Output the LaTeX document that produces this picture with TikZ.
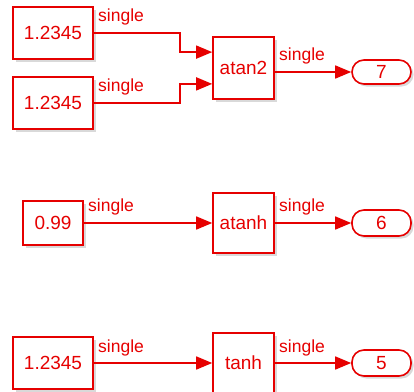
\documentclass[tikz,border=0pt]{standalone}
\usepackage{fontspec}
\setmainfont{Liberation Sans}
\usetikzlibrary{calc,arrows.meta,shadows}
\definecolor{sred}{RGB}{230,0,0}
\tikzset{
  blk/.style={draw=sred, line width=1.6pt, fill=white, text=sred, inner sep=0pt,
    font=\fontsize{19}{22}\selectfont,
    drop shadow={shadow xshift=2.5pt, shadow yshift=-2.5pt, opacity=0.3, fill=gray}},
  outp/.style={blk, rounded corners=12pt, minimum width=59pt},
  sig/.style={draw=sred, line width=1.6pt, -{Triangle[length=16pt,width=13pt]}},
  lbl/.style={text=sred, anchor=base west, inner sep=0pt, font=\fontsize{17.5}{20}\selectfont}
}
\begin{document}
\begin{tikzpicture}[x=1pt,y=-1pt]
\useasboundingbox (0,0) rectangle (414,391);
% top group
\node[blk, minimum width=80pt, minimum height=52pt] (c1) at (53,33) {1.2345};
\node[blk, minimum width=80pt, minimum height=52pt] (c2) at (53,103) {1.2345};
\node[blk, minimum width=61pt, minimum height=62pt] (atan2) at (243.5,68) {atan2};
\node[outp, minimum height=24pt] (o7) at (381.5,72) {7};
\coordinate (a1) at ($(atan2.north west)!0.25!(atan2.south west)$);
\coordinate (a2) at ($(atan2.north west)!0.75!(atan2.south west)$);
\draw[sig] (c1.east) -- (180,33) |- (a1);
\draw[sig] (c2.east) -- (180,103) |- (a2);
\draw[sig] (atan2.east |- o7.west) -- (o7.west);
\node[lbl] (l1) at (98,21) {single};
\node[lbl] (l2) at (98,91) {single};
\node[lbl] (l3) at (279,60) {single};
% middle group
\node[blk, minimum width=60pt, minimum height=44pt] (c3) at (53,223) {0.99};
\node[blk, minimum width=61pt, minimum height=60pt] (atanh) at (243.5,223) {atanh};
\node[outp, minimum height=26pt] (o6) at (381.5,223) {6};
\draw[sig] (c3.east) -- (c3.east -| atanh.west);
\draw[sig] (atanh.east |- o6.west) -- (o6.west);
\node[lbl] (l4) at (88,211) {single};
\node[lbl] (l5) at (279,211) {single};
% bottom group
\node[blk, minimum width=80pt, minimum height=52pt] (c4) at (53,363) {1.2345};
\node[blk, minimum width=61pt, minimum height=60pt] (tanh) at (243.5,363) {tanh};
\node[outp, minimum height=26pt] (o5) at (381.5,363) {5};
\draw[sig] (c4.east) -- (c4.east -| tanh.west);
\draw[sig] (tanh.east |- o5.west) -- (o5.west);
\node[lbl] (l6) at (98,352) {single};
\node[lbl] (l7) at (279,352) {single};
\end{tikzpicture}
\end{document}
